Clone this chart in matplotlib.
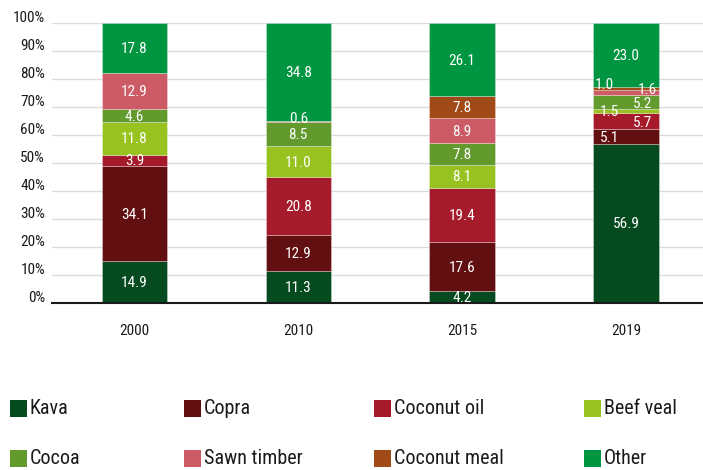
import matplotlib.pyplot as plt
import matplotlib.transforms as mtransforms
from matplotlib.patches import Rectangle
from matplotlib import font_manager
import numpy as np

years = ['2000', '2010', '2015', '2019']
series = ['Kava', 'Copra', 'Coconut oil', 'Beef veal',
          'Cocoa', 'Sawn timber', 'Coconut meal', 'Other']
colors = ['#064a1f', '#620f12', '#a51b2b', '#98c21f',
          '#629a2e', '#cc5b66', '#a04a18', '#009540']

kava = [14.9, 11.3, 4.2, 56.9]
copra = [34.1, 12.9, 17.6, 5.1]
coconut_oil = [3.9, 20.8, 19.4, 5.7]
beef_veal = [11.8, 11.0, 8.1, 1.5]
cocoa = [4.6, 8.5, 7.8, 5.2]
sawn_timber = [12.9, 0.6, 8.9, 1.6]
coconut_meal = [0.0, 0.0, 7.8, 1.0]
other = [17.8, 34.8, 26.1, 23.0]

values = [kava, copra, coconut_oil, beef_veal, cocoa, sawn_timber, coconut_meal, other]

# prefer a narrow sans, fall back to Roboto
names = {f.name for f in font_manager.fontManager.ttflist}
family = 'Roboto'
for cand in ['Roboto Condensed', 'Liberation Sans Narrow', 'Open Sans Condensed', 'Arial Narrow']:
    if cand in names:
        family = cand
        break
plt.rcParams['font.family'] = [family, 'DejaVu Sans']

W, H = 703, 470
fig = plt.figure(figsize=(W / 100, H / 100), dpi=100)
ax = fig.add_axes([52 / W, 1 - 303 / H, 1 - 52 / W, (303 - 23) / H])

# label nudges for the crowded top of the 2019 bar: (dx, dy)
nudge_2019 = {'Copra': (-0.1, 0), 'Coconut oil': (0.1, 0), 'Beef veal': (-0.1, 0),
              'Cocoa': (0.1, -0.4), 'Sawn timber': (0.13, 1.4), 'Coconut meal': (-0.13, 1.6)}

x = np.arange(len(years))
width = 0.4
bottom = np.zeros(len(years))
for name, vals, col in zip(series, values, colors):
    vals = np.array(vals)
    ax.bar(x, vals, width, bottom=bottom, color=col, edgecolor=(1, 1, 1, 0.35),
           linewidth=0.6, zorder=2)
    for i, v in enumerate(vals):
        if v <= 0:
            continue
        ycen = bottom[i] + v / 2
        dx = 0
        if years[i] == '2019' and v < 6:
            dx, dy = nudge_2019.get(name, (0, 0))
            ycen += dy
        elif v < 1.5:
            ycen += 1.3
        ax.text(x[i] + dx, ycen - 0.4, f'{v:.1f}', ha='center', va='center',
                color='white', fontsize=11, zorder=3)
    bottom += vals

ax.set_xlim(-0.503, 3.47)
ax.set_ylim(0, 100)
ax.set_xticks(x, years)
ax.set_yticks(np.arange(0, 101, 10), [f'{t}%' for t in range(0, 101, 10)])
ax.tick_params(axis='both', length=0, labelsize=11, colors='#1a1a1a')
ax.tick_params(axis='x', pad=15)
ax.tick_params(axis='y', pad=5)
shift = mtransforms.ScaledTranslation(0, 6 / 100, fig.dpi_scale_trans)
for lab in ax.get_yticklabels():
    lab.set_transform(lab.get_transform() + shift)
ax.grid(axis='y', color='#dcdcdc', linewidth=1, zorder=0)
ax.set_axisbelow(True)
for s in ['top', 'right', 'left']:
    ax.spines[s].set_visible(False)
ax.spines['bottom'].set_color('#1a1a1a')
ax.spines['bottom'].set_linewidth(1.5)

# legend laid out as a 4x2 grid of swatches
col_x = [10, 184, 374, 584]
row_y = [408, 458]
sq = 17
for k, (name, col) in enumerate(zip(series, colors)):
    px = col_x[k % 4]
    py = row_y[k // 4]
    fig.patches.append(Rectangle((px / W, 1 - (py + sq / 2) / H), sq / W, sq / H,
                                 transform=fig.transFigure, facecolor=col, edgecolor='none'))
    fig.text((px + sq + 3) / W, 1 - py / H, name, ha='left', va='center',
             fontsize=14.5, color='#1a1a1a')

fig.savefig('out.png', dpi=100)
